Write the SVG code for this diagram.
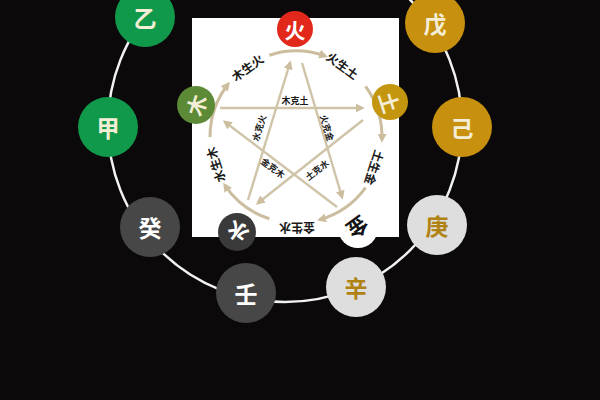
<svg xmlns="http://www.w3.org/2000/svg" width="600" height="400" viewBox="0 0 600 400">
<defs>
<style>
.bg{fill:#0b090a}
.ring{fill:none;stroke:#f2f2f2;stroke-width:2.5}
.stem{font-family:"Noto Sans CJK SC","Noto Sans CJK JP",sans-serif;font-size:23px;font-weight:700;text-anchor:middle;dominant-baseline:central}
.el{font-family:"Noto Sans CJK SC","Noto Sans CJK JP",sans-serif;font-size:21px;font-weight:700;text-anchor:middle;dominant-baseline:central}
.lab{font-family:"Noto Sans CJK SC","Noto Sans CJK JP",sans-serif;font-size:12px;font-weight:700;fill:#1a1a1a;text-anchor:middle;dominant-baseline:central}
.sm{font-family:"Noto Sans CJK SC","Noto Sans CJK JP",sans-serif;font-size:9px;font-weight:700;fill:#1a1a1a;text-anchor:middle;dominant-baseline:central}
.arc{fill:none;stroke:#cbbd9e;stroke-width:3;marker-end:url(#ah)}
.ln{fill:none;stroke:#cfc3a8;stroke-width:2.4;marker-end:url(#ah)}
.green{fill:#11994b}.gold{fill:#c8900f}.dark{fill:#474747}.light{fill:#dedede}
.cream{fill:#f4eed6}.white{fill:#ffffff}.goldt{fill:#b08212}
</style>
<marker id="ah" viewBox="0 0 10 10" refX="7" refY="5" markerWidth="9" markerHeight="9" markerUnits="userSpaceOnUse" orient="auto">
<path d="M0,0 L10,5 L0,10 z" fill="#cbbd9e"/>
</marker>
</defs>
<rect class="bg" x="0" y="0" width="600" height="400"/>
<circle class="ring" cx="285" cy="125" r="177"/>

<g id="stem-yi"><circle class="green" cx="145" cy="17" r="30"/><text class="stem cream" x="145" y="17">乙</text></g>
<g id="stem-jia"><circle class="green" cx="108" cy="127" r="30"/><text class="stem cream" x="108" y="127">甲</text></g>
<g id="stem-gui"><circle class="dark" cx="150" cy="227" r="30"/><text class="stem white" x="150" y="227">癸</text></g>
<g id="stem-ren"><circle class="dark" cx="246" cy="293" r="30"/><text class="stem white" x="246" y="293">壬</text></g>
<g id="stem-xin"><circle class="light" cx="356" cy="287" r="30"/><text class="stem goldt" x="356" y="287">辛</text></g>
<g id="stem-geng"><circle class="light" cx="437" cy="225" r="30"/><text class="stem goldt" x="437" y="225">庚</text></g>
<g id="stem-ji"><circle class="gold" cx="462" cy="127" r="30"/><text class="stem cream" x="462" y="127">己</text></g>
<g id="stem-wu"><circle class="gold" cx="435" cy="23" r="30"/><text class="stem cream" x="435" y="23">戊</text></g>

<g id="panel"><rect x="192" y="18" width="207" height="219" fill="#ffffff"/></g>

<g id="connectors">
<path class="arc" d="M269.4,55.2 A86,86 0 0 1 325.4,56.2"/>
<path class="arc" d="M365.6,86.4 A86,86 0 0 1 381.9,140"/>
<path class="arc" d="M365.6,187.6 A86,86 0 0 1 319.7,219.7"/>
<path class="arc" d="M269.4,218.8 A86,86 0 0 1 224.7,185.1"/>
<path class="arc" d="M210,137 A86,86 0 0 1 228.2,84"/>
<path class="ln" d="M220,108 L362,108"/>
<path class="ln" d="M363,120 L258,203"/>
<path class="ln" d="M248,200 L290,63"/>
<path class="ln" d="M302,63 L342,197"/>
<path class="ln" d="M337,207 L225,122"/>
<text class="lab" transform="translate(247,67) rotate(-36)">木生火</text>
<text class="lab" transform="translate(343,65) rotate(36)">火生土</text>
<text class="lab" transform="translate(375,168) rotate(108)">土生金</text>
<text class="lab" transform="translate(297,228) rotate(180)">金生水</text>
<text class="lab" transform="translate(215,165) rotate(-108)">水生木</text>
<text class="sm" transform="translate(295,100)">木克土</text>
<text class="sm" transform="translate(259,128) rotate(-73)">水克火</text>
<text class="sm" transform="translate(327,128) rotate(73)">火克金</text>
<text class="sm" transform="translate(273,168) rotate(37)">金克木</text>
<text class="sm" transform="translate(317,170) rotate(-38)">土克水</text>
</g>

<g id="el-huo"><circle cx="295" cy="29" r="18" fill="#e2281b"/><text class="el white" x="295" y="29">火</text></g>
<g id="el-tu"><circle cx="390" cy="102" r="18" fill="#c4950f"/><text class="el cream" transform="translate(390,102) rotate(72)">土</text></g>
<g id="el-jin"><circle cx="358" cy="228" r="20" fill="#ffffff"/><text class="el" fill="#111" transform="translate(358,228) rotate(144)">金</text></g>
<g id="el-shui"><circle cx="237" cy="232" r="19" fill="#3a3a3a"/><text class="el white" transform="translate(237,232) rotate(216)">水</text></g>
<g id="el-mu"><circle cx="196" cy="105" r="19" fill="#5c8a36"/><text class="el cream" transform="translate(196,105) rotate(288)">木</text></g>
</svg>
